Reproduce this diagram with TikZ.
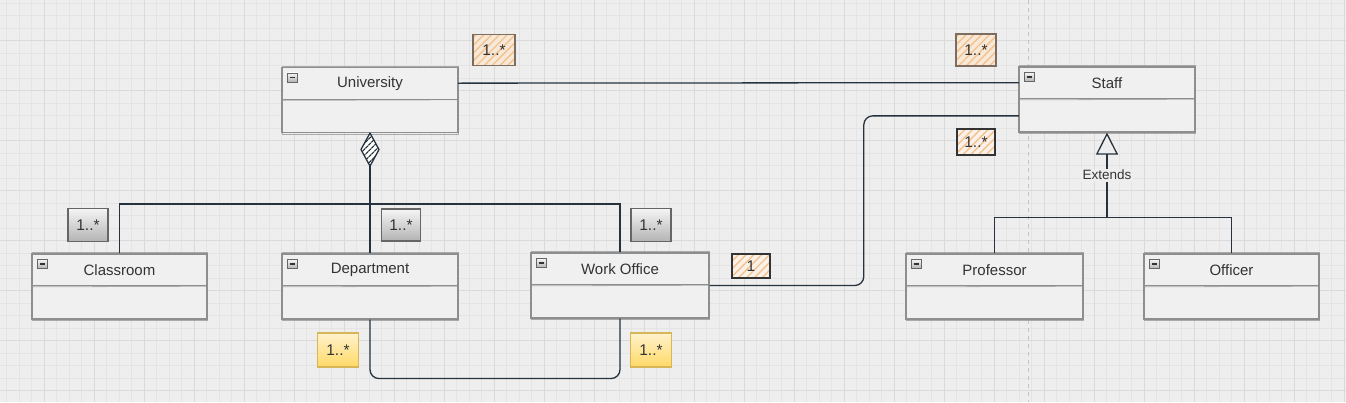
\documentclass[tikz,border=0pt]{standalone}
\usepackage{fontspec}
\setmainfont{Liberation Sans}
\usetikzlibrary{patterns.meta,arrows.meta,calc}
\definecolor{bgc}{HTML}{EEEEEE}
\definecolor{gmin}{HTML}{E4E4E4}
\definecolor{gmaj}{HTML}{DADADA}
\definecolor{conn}{HTML}{26323E}
\definecolor{boxc}{HTML}{8E8E8E}
\definecolor{boxfill}{HTML}{F0F0F0}
\definecolor{txt}{HTML}{333333}
\definecolor{hatchbg}{HTML}{F8E8D8}
\definecolor{hatchln}{HTML}{F2C28E}
\definecolor{hatchbd}{HTML}{7D6D60}
\definecolor{greytop}{HTML}{F5F5F5}
\definecolor{greybot}{HTML}{B3B3B3}
\definecolor{greybd}{HTML}{666666}
\definecolor{yeltop}{HTML}{FFF2CC}
\definecolor{yelbot}{HTML}{FFD966}
\definecolor{yelbd}{HTML}{D6B656}
\newcommand{\fsz}[1]{\fontsize{#1}{#1}\selectfont}
\tikzset{
  classall/.style={rectangle, minimum height=65, inner sep=0, fill=boxfill, draw=boxc, line width=1.1},
  classhead/.style={rectangle, minimum height=32, inner sep=0, font=\fsz{15}, text=txt},
  classbody/.style={rectangle, minimum height=33, inner sep=0},
  sketch/.style={draw=boxc, line width=0.8, opacity=0.7},
  minusicon/.style={rectangle, minimum width=10, minimum height=9, inner sep=0, draw=greybd, line width=0.6,
     top color=greytop, bottom color=greybot,
     path picture={\draw[txt, line width=1.4] ($(path picture bounding box.west)+(2.2,0)$) -- ($(path picture bounding box.east)+(-2.2,0)$);}},
  cline/.style={draw=conn, line width=1.3},
  mult/.style={rectangle, inner sep=0, font=\fsz{15.5}, text=txt, line width=1.1},
  multhatch/.style={mult, draw=hatchbd, preaction={fill=hatchbg},
     pattern={Lines[angle=45,distance=5.5pt,line width=1.4pt]}, pattern color=hatchln},
  multhatchdark/.style={multhatch, draw=txt, preaction={fill=hatchbg!60!white}},
  multgrey/.style={mult, draw=greybd, top color=greytop, bottom color=greybot},
  multyel/.style={mult, draw=yelbd, top color=yeltop, bottom color=yelbot},
  extlbl/.style={fill=bgc, inner sep=1.5, font=\fsz{13.5}, text=txt}
}
\newcommand{\umlclass}[5]{%
  \node[classall, minimum width=#5] (#1) at (#2,#3+32.5) {};
  \node[classhead, minimum width=#5, anchor=north] (#1-h) at (#1.north) {#4};
  \node[classbody, minimum width=#5, anchor=south] (#1-b) at (#1.south) {};
  \draw[sketch] ($(#1.north west)+(1,-0.8)$) rectangle ($(#1.south east)+(-0.6,1)$);
  \draw[draw=boxc, line width=1.1] (#1-h.south west) -- (#1-h.south east);
  \draw[sketch] ($(#1-h.south west)+(0,1)$) -- ($(#1-h.south east)+(0,0.4)$);
  \node[minusicon] (#1-m) at ($(#1.north west)+(11,10.5)$) {};
}
\begin{document}
\begin{tikzpicture}[x=1pt,y=-1pt]
\useasboundingbox (0,0) rectangle (1346,402);
\fill[bgc] (0,0) rectangle (1346,402);
% grid
\foreach \i in {0,...,107} { \draw[gmin, line width=0.5] ({6.5+12.5*\i},0) -- ++(0,402); }
\foreach \j in {0,...,32} { \draw[gmin, line width=0.5] (0,{3+12.5*\j}) -- ++(1346,0); }
\foreach \i in {0,...,26} { \draw[gmaj, line width=0.6] ({44+50*\i},0) -- ++(0,402); }
\foreach \j in {0,...,7} { \draw[gmaj, line width=0.6] (0,{40.5+50*\j}) -- ++(1346,0); }
\draw[draw=gray!45, line width=0.8, dash pattern=on 4pt off 4pt] (1028,0) -- (1028,402);

% classes
\umlclass{univ}{370}{67.5}{University}{176}
\umlclass{staff}{1107}{67}{Staff}{176}
\umlclass{cls}{119.5}{254}{Classroom}{175}
\umlclass{dept}{370}{254}{Department}{176}
\umlclass{wo}{620}{253}{Work Office}{178}
\umlclass{prof}{994.5}{254}{Professor}{177}
\umlclass{off}{1231.5}{254}{Officer}{175}

% association University -- Staff
\draw[cline] (univ-h.east) -- (staff-h.west);
% Staff -- Work Office
\draw[cline, rounded corners=9] (staff-b.west) -- ++(-155,0) |- (wo.east);
% aggregation
\coordinate (dtop) at (univ.south);
\coordinate (dright) at ($(dtop)+(9,16.5)$);
\coordinate (dbot) at ($(dtop)+(0,33)$);
\coordinate (dleft) at ($(dtop)+(-9,16.5)$);
\fill[white] (dtop) -- (dright) -- (dbot) -- (dleft) -- cycle;
\fill[pattern={Lines[angle=45,distance=4pt,line width=1.3pt]}, pattern color=conn] (dtop) -- (dright) -- (dbot) -- (dleft) -- cycle;
\draw[cline, line join=round] (dtop) -- (dright) -- (dbot) -- (dleft) -- cycle;
\coordinate (bus) at ($(dbot)+(0,38)$);
\draw[cline] (dbot) -- (bus);
\draw[cline, line width=1.6] (cls.north) -- (cls.north |- bus) -- (wo.north |- bus) -- (wo.north);
\draw[cline] (bus) -- (dept.north);
% Department -- Work Office
\draw[cline, rounded corners=9] (dept.south) -- ++(0,59) -| (wo.south);
% inheritance
\coordinate (ij) at ($(staff.south)+(0,85)$);
\draw[cline] (prof.north) |- (ij) -| (off.north);
\draw[cline, -{Triangle[length=22pt,width=22pt,fill=bgc]}] (ij) -- node[extlbl] (ext) {Extends} (staff.south);

% multiplicities
\node[multhatch, minimum width=42, minimum height=31] (m1) at (494,50) {1..*};
\node[multhatch, minimum width=40, minimum height=32] (m2) at (976,50) {1..*};
\node[multhatchdark, minimum width=38, minimum height=26] (m3) at (976,142) {1..*};
\node[multhatchdark, minimum width=38, minimum height=24] (m4) at (751,266) {1};
\node[multgrey, minimum width=40, minimum height=33] (m5) at (88,225) {1..*};
\node[multgrey, minimum width=39, minimum height=32] (m6) at (401,225) {1..*};
\node[multgrey, minimum width=40, minimum height=33] (m7) at (651,225) {1..*};
\node[multyel, minimum width=41, minimum height=34] (m8) at (338,350) {1..*};
\node[multyel, minimum width=41, minimum height=34] (m9) at (651,350) {1..*};
\end{tikzpicture}
\end{document}
